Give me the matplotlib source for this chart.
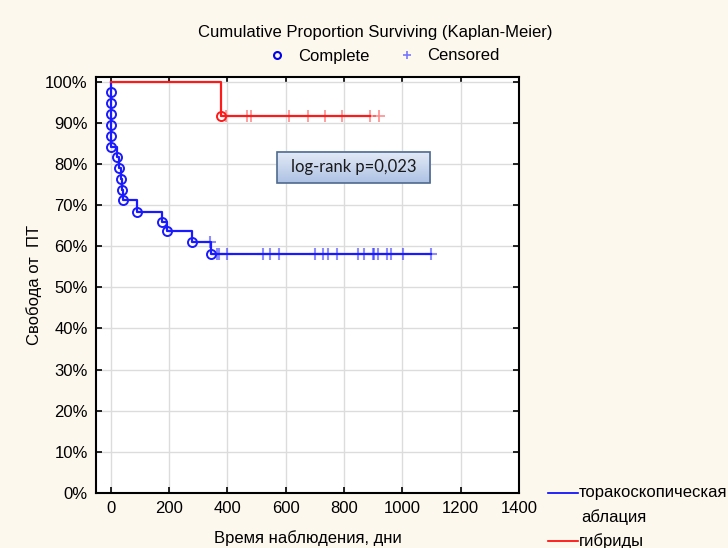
import numpy as np
import matplotlib.pyplot as plt
from matplotlib.lines import Line2D
from matplotlib.patches import Rectangle

# thoracoscopic ablation (blue): step curve, events (circles), censored (+)
blue_time = [0, 0, 0, 1, 1, 2, 2, 23, 28, 34, 39, 41, 91, 177, 193, 279, 345, 1098]
blue_surv = [1.0, 0.974, 0.947, 0.921, 0.895, 0.868, 0.842, 0.816, 0.789, 0.763,
             0.737, 0.711, 0.684, 0.658, 0.637, 0.610, 0.580, 0.580]
blue_cens_time = [340, 364, 370, 398, 521, 548, 578, 702, 729, 745, 777, 848, 867,
                  898, 903, 916, 947, 960, 1003, 1098]
blue_cens_surv = [0.610] + [0.580] * 19

# hybrid (red)
red_time = [0, 377, 890]
red_surv = [1.0, 0.917, 0.917]
red_cens_time = [396, 468, 483, 613, 678, 735, 793, 890, 921]
red_cens_surv = [0.917] * 9

x_ticks = [0, 200, 400, 600, 800, 1000, 1200, 1400]
y_ticks = [0, 0.1, 0.2, 0.3, 0.4, 0.5, 0.6, 0.7, 0.8, 0.9, 1.0]
y_labels = ['0%', '10%', '20%', '30%', '40%', '50%', '60%', '70%', '80%', '90%', '100%']

plt.rcParams['font.family'] = ['Liberation Sans', 'DejaVu Sans']
plt.rcParams['font.size'] = 12

bg = '#fdf8ee'
fig = plt.figure(figsize=(7.28, 5.48), dpi=100, facecolor=bg)
ax = fig.add_axes([96 / 728, 1 - 493 / 548, 423 / 728, 416 / 548])
ax.set_facecolor('white')

blue = '#1a1aff'
red = '#ff1a1a'

ax.step(blue_time, blue_surv, where='post', color=blue, lw=1.6, zorder=3)
ax.plot(blue_time[1:-1], blue_surv[1:-1], 'o', mfc='none', mec=blue, mew=1.4, ms=6.5, zorder=4)
ax.plot(blue_cens_time, blue_cens_surv, '+', color=blue, alpha=0.5, ms=9, mew=1.5, zorder=4)

ax.step(red_time, red_surv, where='post', color=red, lw=1.6, zorder=3)
ax.plot(red_time[1:-1], red_surv[1:-1], 'o', mfc='none', mec=red, mew=1.4, ms=6.5, zorder=4)
ax.plot(red_cens_time, red_cens_surv, '+', color=red, alpha=0.5, ms=9, mew=1.2, zorder=4)

ax.set_xlim(-50, 1400)
ax.set_ylim(0, 1.011)
ax.set_xticks(x_ticks)
ax.set_yticks(y_ticks)
ax.set_yticklabels(y_labels)
ax.tick_params(direction='in', length=4, width=1.2, top=True, right=True, labelsize=12)
ax.tick_params(axis='y', pad=6)
ax.tick_params(axis='x', pad=6)
ax.grid(True, color='#dcdcdc', lw=1)
ax.set_axisbelow(True)
for s in ax.spines.values():
    s.set_linewidth(1.5)
    s.set_color('black')

ax.set_xlabel('Время наблюдения, дни', fontsize=12, labelpad=10)
ax.set_ylabel('Свобода от  ПТ', fontsize=12, labelpad=2)

# log-rank box with gradient
bx0, bx1, by0, by1 = 0.428, 0.790, 0.745, 0.820
grad = np.linspace(0, 1, 50).reshape(-1, 1)
ax.imshow(grad, extent=(bx0, bx1, by0, by1), transform=ax.transAxes,
          cmap=plt.matplotlib.colors.LinearSegmentedColormap.from_list('g', ['#aec2e4', '#e4ebf7']),
          origin='lower', aspect='auto', zorder=5)
ax.add_patch(Rectangle((bx0, by0), bx1 - bx0, by1 - by0, transform=ax.transAxes,
                       fill=False, ec='#4f6a8f', lw=1.2, zorder=6))
ax.text((bx0 + bx1) / 2, (by0 + by1) / 2, 'log-rank p=0,023', transform=ax.transAxes,
        ha='center', va='center', fontsize=12, family=['Lato', 'DejaVu Sans'], color='#1a1a1a', zorder=7)
ax.set_xlim(-50, 1400)
ax.set_ylim(0, 1.011)

# title and top legend
fig.text(375 / 728, 1 - 32 / 548, 'Cumulative Proportion Surviving (Kaplan-Meier)',
         ha='center', va='center', fontsize=12)
handles = [Line2D([], [], ls='', marker='o', mfc='none', mec='#0000ee', mew=1.5, ms=5),
           Line2D([], [], ls='', marker='+', color='#7777ff', mew=1.2, ms=6)]
fig.legend(handles, ['Complete', 'Censored'], loc='center', bbox_to_anchor=(383 / 728, 1 - 56 / 548),
           ncol=2, frameon=False, fontsize=12, handlelength=1.3, columnspacing=1.6, handletextpad=0.6)

# group legend at bottom right
fig.add_artist(Line2D([548 / 728, 578 / 728], [1 - 493 / 548] * 2, color='#0000ff', lw=1.2))
fig.text(579 / 728, 1 - 493 / 548, 'торакоскопическая', va='center', ha='left', fontsize=12)
fig.text(581 / 728, 1 - 517 / 548, 'аблация', va='center', ha='left', fontsize=12)
fig.add_artist(Line2D([548 / 728, 578 / 728], [1 - 541 / 548] * 2, color='#ff0000', lw=1.2))
fig.text(579 / 728, 1 - 541 / 548, 'гибриды', va='center', ha='left', fontsize=12)

fig.savefig('out.png', dpi=100, facecolor=bg)
